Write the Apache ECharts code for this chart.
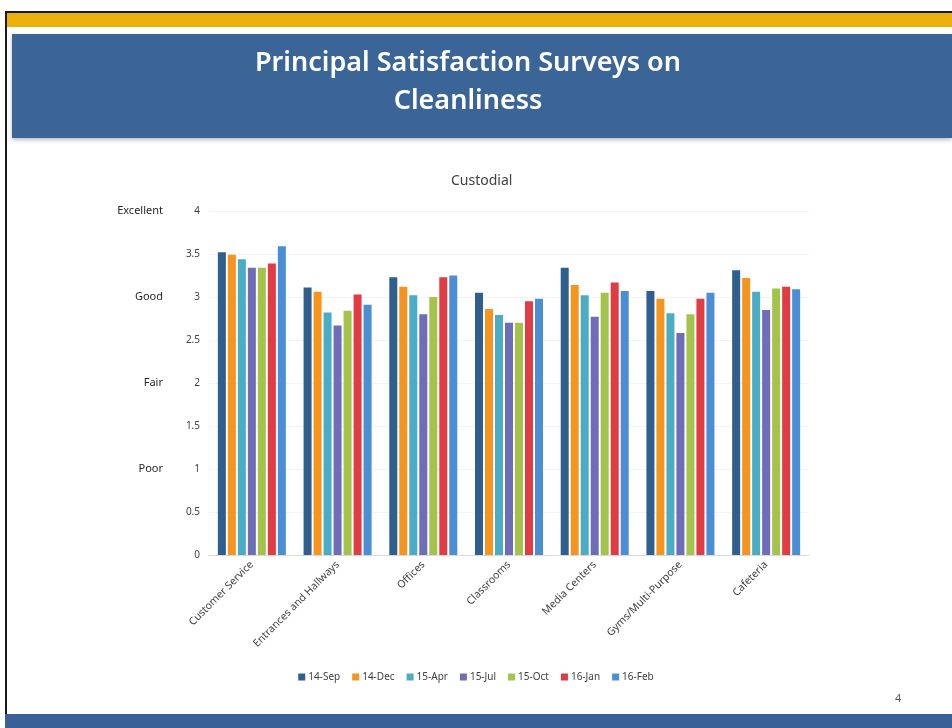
<!DOCTYPE html>
<html>
<head>
<meta charset="utf-8">
<script src="https://cdn.jsdelivr.net/npm/echarts@6/dist/echarts.min.js"></script>
<style>
html,body{margin:0;padding:0;background:#fff;}
#c{width:952px;height:728px;}
</style>
</head>
<body>
<div id="c"></div>
<script>
var categories = ['Customer Service','Entrances and Hallways','Offices','Classrooms','Media Centers','Gyms/Multi-Purpose','Cafeteria'];
var seriesNames = ['14-Sep','14-Dec','15-Apr','15-Jul','15-Oct','16-Jan','16-Feb'];
var s14Sep = [3.52, 3.11, 3.23, 3.05, 3.34, 3.07, 3.31];
var s14Dec = [3.49, 3.06, 3.12, 2.86, 3.14, 2.98, 3.22];
var s15Apr = [3.44, 2.82, 3.02, 2.79, 3.02, 2.81, 3.06];
var s15Jul = [3.34, 2.67, 2.80, 2.70, 2.77, 2.58, 2.85];
var s15Oct = [3.34, 2.84, 3.00, 2.70, 3.05, 2.80, 3.10];
var s16Jan = [3.39, 3.03, 3.23, 2.95, 3.17, 2.98, 3.12];
var s16Feb = [3.59, 2.91, 3.25, 2.98, 3.07, 3.05, 3.09];
var yTickLabels = ['0','0.5','1','1.5','2','2.5','3','3.5','4'];
var ratingLabels = {1:'Poor', 2:'Fair', 3:'Good', 4:'Excellent'};
var colors = ['#2F5F8E','#F7941D','#4BACC6','#6F6DB8','#A4C34A','#E13C44','#4A8FD6'];

var seriesData = [s14Sep, s14Dec, s15Apr, s15Jul, s15Oct, s16Jan, s16Feb];
var FONT = '"Noto Sans", "Open Sans", sans-serif';

var chart = echarts.init(document.getElementById('c'), null, {renderer:'canvas'});
var option = {
  animation: false,
  backgroundColor: '#ffffff',
  color: colors,
  textStyle: {fontFamily: FONT},
  title: {
    text: 'Custodial',
    left: 446, top: 169,
    textStyle: {fontFamily: FONT, fontSize: 14, fontWeight: 'normal', color: '#404040'}
  },
  legend: {
    bottom: 41, left: 'center',
    itemWidth: 7, itemHeight: 7, itemGap: 12,
    icon: 'rect',
    textStyle: {fontFamily: FONT, fontSize: 10, color: '#404040', padding:[0,0,0,-2]},
    data: seriesNames
  },
  grid: {left: 209, right: 143, top: 211, bottom: 173, containLabel: false},
  xAxis: {
    type: 'category', data: categories,
    axisLine: {show: true, lineStyle: {color: '#d9d9d9'}},
    axisTick: {show: false},
    axisLabel: {rotate: 45, fontSize: 10.5, color: '#404040', fontFamily: FONT, margin: 8, interval: 0}
  },
  yAxis: [{
    type: 'value', min: 0, max: 4, interval: 0.5,
    axisLine: {show: false}, axisTick: {show: false},
    splitLine: {show: true, lineStyle: {color: '#f3f3f3'}},
    axisLabel: {fontSize: 10, color: '#404040', fontFamily: FONT, margin: 9,
      formatter: function(v){ return yTickLabels[Math.round(v*2)]; }}
  },{
    type: 'value', min: 0, max: 4, interval: 1, position: 'left', offset: 37,
    axisLine: {show: false}, axisTick: {show: false}, splitLine: {show: false},
    axisLabel: {fontSize: 11, color: '#262626', fontFamily: FONT, margin: 9, padding:[0,0,5,0],
      formatter: function(v){ return ratingLabels[Math.round(v)] || ''; }}
  }],
  series: seriesNames.map(function(n, i){
    return {name: n, type: 'bar', data: seriesData[i], barWidth: 8, barGap: '25%', yAxisIndex: 0};
  }),
  graphic: [
    {type:'rect', shape:{x:5, y:11, width:947, height:2}, style:{fill:'#1a1a1a'}, z:10},
    {type:'rect', shape:{x:5, y:11, width:2, height:705}, style:{fill:'#1a1a1a'}, z:10},
    {type:'rect', shape:{x:7, y:13, width:945, height:14}, style:{fill:'#E9B10A'}, z:10},
    {type:'rect', shape:{x:12, y:34, width:940, height:104}, style:{fill:'#3B6597', shadowBlur:4, shadowColor:'rgba(0,0,0,0.25)', shadowOffsetY:2}, z:10},
    {type:'text', x: 468, y: 44, z: 11,
      style:{text:'Principal Satisfaction Surveys on\nCleanliness', fill:'#ffffff', font:'600 27px ' + FONT, textAlign:'center', lineHeight: 38}},
    {type:'rect', shape:{x:5, y:714, width:947, height:14}, style:{fill:'#3A6197'}, z:10},
    {type:'text', x: 895, y: 693, z: 11, style:{text:'4', fill:'#595959', font:'11px ' + FONT}}
  ]
};
chart.setOption(option);
</script>
</body>
</html>
